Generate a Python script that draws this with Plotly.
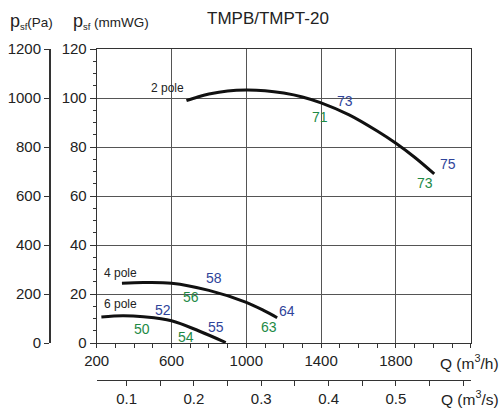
import plotly.graph_objects as go

# ---- data (Q in m3/h, p_sf in mmWG) ----
q_2pole = [680, 740, 800, 900, 1000, 1100, 1200, 1300, 1400, 1550, 1700, 1800, 1900, 2005]
p_2pole = [98.9, 100.4, 101.6, 102.9, 103.3, 103.0, 102.0, 100.4, 98.0, 93.1, 86.5, 81.5, 75.8, 69.0]

q_4pole = [335, 450, 600, 800, 1000, 1100, 1165]
p_4pole = [24.4, 24.7, 24.4, 21.5, 16.6, 13.0, 10.3]

q_6pole = [225, 340, 450, 600, 750, 890]
p_6pole = [10.6, 11.1, 10.7, 9.1, 4.8, 0.2]

# curve names
pole_labels = ["2 pole", "4 pole", "6 pole"]
pole_label_q = [580, 328, 328]
pole_label_p = [104.2, 28.7, 15.9]

# blue numbers
blue_text = ["73", "75", "58", "64", "52", "55"]
blue_q = [1530, 2080, 829, 1220, 555, 840]
blue_p = [98.8, 72.9, 26.4, 13.1, 13.5, 6.7]

# green numbers
green_text = ["71", "73", "56", "63", "50", "54"]
green_q = [1395, 1955, 702, 1122, 443, 675]
green_p = [92.1, 65.2, 18.9, 6.4, 5.6, 2.6]

# axis ticks
q_h_ticks = [200, 600, 1000, 1400, 1800]
q_s_ticks = [0.1, 0.2, 0.3, 0.4, 0.5]
mmwg_ticks = [0, 20, 40, 60, 80, 100, 120]
pa_ticks = [0, 200, 400, 600, 800, 1000, 1200]

FONT = "Liberation Sans, Arial, sans-serif"
TXT = "#222222"
BLUE = "#2f449a"
GREEN = "#1e8a45"
FS = 15

fig = go.Figure()
for q, p in [(q_2pole, p_2pole), (q_4pole, p_4pole), (q_6pole, p_6pole)]:
    fig.add_trace(go.Scatter(x=q, y=p, mode="lines",
                             line=dict(color="#111111", width=3, shape="spline"),
                             showlegend=False, hoverinfo="skip"))
# register secondary axes
fig.add_trace(go.Scatter(x=[None], y=[None], xaxis="x2", yaxis="y", showlegend=False, hoverinfo="skip"))
fig.add_trace(go.Scatter(x=[None], y=[None], xaxis="x", yaxis="y2", showlegend=False, hoverinfo="skip"))

ann = []
for t, x, y in zip(pole_labels, pole_label_q, pole_label_p):
    ann.append(dict(text=t, x=x, y=y, xref="x", yref="y", showarrow=False,
                    font=dict(size=12, color=TXT, family=FONT)))
for t, x, y in zip(blue_text, blue_q, blue_p):
    ann.append(dict(text=t, x=x, y=y, xref="x", yref="y", showarrow=False,
                    font=dict(size=14, color=BLUE, family=FONT)))
for t, x, y in zip(green_text, green_q, green_p):
    ann.append(dict(text=t, x=x, y=y, xref="x", yref="y", showarrow=False,
                    font=dict(size=14, color=GREEN, family=FONT)))

W, H = 503, 408
P = "<span style='font-size:18px'>p</span><sub>sf</sub>"
ann += [
    dict(text=P + "(Pa)", x=8 / W, y=(H - 21) / H, xref="paper", yref="paper",
         xanchor="left", yanchor="middle", showarrow=False, font=dict(size=13.5, color=TXT, family=FONT)),
    dict(text=P + " (mmWG)", x=71 / W, y=(H - 21) / H, xref="paper", yref="paper",
         xanchor="left", yanchor="middle", showarrow=False, font=dict(size=13.5, color=TXT, family=FONT)),
    dict(text="TMPB/TMPT-20", x=267.5 / W, y=(H - 19) / H, xref="paper", yref="paper",
         xanchor="center", yanchor="middle", showarrow=False, font=dict(size=17, color=TXT, family=FONT)),
    dict(text="Q (m<sup>3</sup>/h)", x=501 / W, y=(H - 362) / H, xref="paper", yref="paper",
         xanchor="right", yanchor="middle", showarrow=False, font=dict(size=15.5, color=TXT, family=FONT)),
    dict(text="Q (m<sup>3</sup>/s)", x=501 / W, y=(H - 398) / H, xref="paper", yref="paper",
         xanchor="right", yanchor="middle", showarrow=False, font=dict(size=15.5, color=TXT, family=FONT)),
]

xdom = [96.7 / W, 470.7 / W]
ydom = [(H - 343) / H, (H - 49) / H]
LINE = "#333333"
GRID = "#555555"
tickfont = dict(size=FS, color=TXT, family=FONT)

fig.update_layout(
    width=W, height=H,
    margin=dict(l=0, r=0, t=0, b=0, autoexpand=False),
    paper_bgcolor="white", plot_bgcolor="white",
    showlegend=False, hovermode=False,
    annotations=ann,
    xaxis=dict(domain=xdom, range=[200, 2200], tickmode="array", tickvals=q_h_ticks,
               ticks="outside", ticklen=4, tickcolor=LINE, showline=True, linecolor=LINE,
               linewidth=1, mirror=True, showgrid=True, gridcolor=GRID, gridwidth=1,
               zeroline=False, tickfont=tickfont, automargin=False,
               minor=dict(tick0=200, dtick=100, ticks="outside", ticklen=4, tickcolor=LINE, showgrid=False)),
    xaxis2=dict(overlaying="x", anchor="free", position=(H - 380) / H, side="bottom",
                range=[200 / 3600, 2200 / 3600], tickmode="array", tickvals=q_s_ticks,
                ticktext=[str(v) for v in q_s_ticks],
                ticks="outside", ticklen=5, tickcolor=LINE, showline=True, linecolor=LINE,
                linewidth=1, showgrid=False, zeroline=False, tickfont=tickfont, automargin=False,
                minor=dict(tick0=0.05, dtick=0.05, ticks="outside", ticklen=5, tickcolor=LINE, showgrid=False)),
    yaxis=dict(domain=ydom, range=[0, 120], tickmode="array", tickvals=mmwg_ticks,
               ticks="outside", ticklen=6, tickcolor=LINE, showline=True, linecolor=LINE,
               linewidth=1, mirror=True, showgrid=True, gridcolor=GRID, gridwidth=1,
               zeroline=False, tickfont=tickfont, automargin=False,
               minor=dict(tick0=0, dtick=5, ticks="outside", ticklen=3, tickcolor=LINE, showgrid=False)),
    yaxis2=dict(overlaying="y", anchor="free", position=49 / W, side="left",
                range=[0, 1200], tickmode="array", tickvals=pa_ticks,
                ticks="outside", ticklen=5, tickcolor=LINE, showline=True, linecolor=LINE,
                linewidth=1.5, showgrid=False, zeroline=False, tickfont=tickfont, automargin=False),
)

fig.write_html("out.html", config={"displayModeBar": False, "staticPlot": True},
               post_script="document.body.style.margin='0';document.body.style.overflow='hidden';")
